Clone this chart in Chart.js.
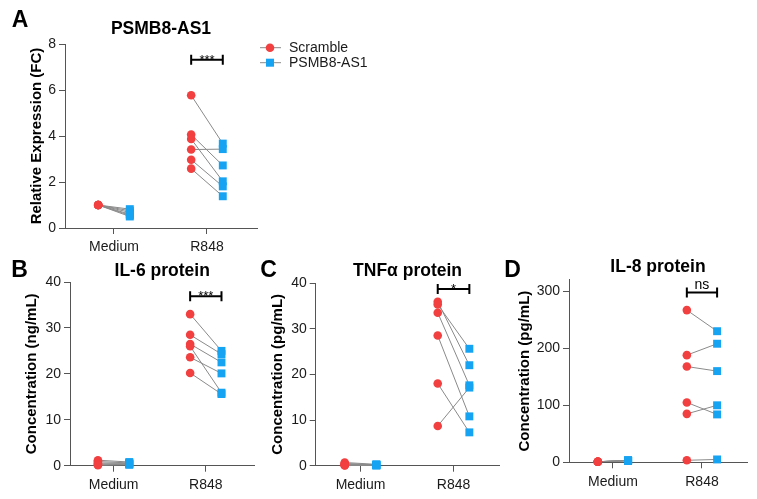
<!DOCTYPE html>
<html>
<head>
<meta charset="utf-8">
<script src="https://cdn.jsdelivr.net/npm/chart.js@4"></script>
<style>
  body { margin: 0; background: #fff; width: 757px; height: 499px; position: relative; overflow: hidden; }
  canvas { position: absolute; }
</style>
</head>
<body>
<canvas id="chartA" width="380" height="255" style="left:0;top:0"></canvas>
<canvas id="chartB" width="260" height="249" style="left:0;top:250px"></canvas>
<canvas id="chartC" width="255" height="249" style="left:250px;top:250px"></canvas>
<canvas id="chartD" width="257" height="249" style="left:500px;top:250px"></canvas>
<script>
const categories = ['Medium', 'R848'];
const seriesNames = ['Scramble', 'PSMB8-AS1'];

// A - PSMB8-AS1 relative expression
const aScrMedium = [1.0, 1.0, 1.0, 1.0, 1.0, 1.0];
const aKdMedium = [0.82, 0.75, 0.68, 0.6, 0.55, 0.5];
const aScrR848 = [5.77, 4.06, 3.87, 3.41, 2.97, 2.58];
const aKdR848 = [3.67, 2.72, 2.03, 3.43, 1.81, 1.38];
const aTicks = [0, 2, 4, 6, 8];

// B - IL-6
const bScrMedium = [1.2, 0.9, 0.6, 0.4, 0.2, 0.1];
const bKdMedium = [0.8, 0.6, 0.5, 0.4, 0.3, 0.2];
const bScrR848 = [33.0, 28.5, 26.5, 26.0, 23.6, 20.2];
const bKdR848 = [25.0, 24.3, 22.5, 15.9, 20.1, 15.6];
const bTicks = [0, 10, 20, 30, 40];

// C - TNFa
const cScrMedium = [0.7, 0.5, 0.3, 0.2, 0.1, 0.05];
const cKdMedium = [0.3, 0.2, 0.2, 0.1, 0.1, 0.05];
const cScrR848 = [35.9, 35.3, 33.5, 28.5, 18.0, 8.7];
const cKdR848 = [22.0, 25.6, 17.6, 10.8, 7.3, 17.1];
const cTicks = [0, 10, 20, 30, 40];

// D - IL-8
const dScrMedium = [1, 1, 1, 1, 1, 1];
const dKdMedium = [3, 3, 2.5, 3, 3.5, 3];
const dScrR848 = [267, 188, 168, 105, 85, 3.5];
const dKdR848 = [230, 208, 160, 84, 100, 5];
const dTicks = [0, 100, 200, 300];

const FONT = '"Liberation Sans", Arial, sans-serif';
const RED = '#f23f3f';
const BLUE = '#16a3f2';
const LINE = '#8a8a8a';
const AXIS = '#555';
const OFF = 0.17;
const X_H = 27;

Chart.defaults.font.family = FONT;
Chart.defaults.color = '#1a1a1a';

// titles, panel letters, significance bracket and legend
const panelText = {
  id: 'panelText',
  afterDraw(chart, args, o) {
    const { ctx, chartArea: a, scales: { x, y } } = chart;
    ctx.save();
    ctx.fillStyle = '#000';
    ctx.textAlign = 'center';
    ctx.textBaseline = 'middle';
    ctx.font = 'bold 23px ' + FONT;
    ctx.fillText(o.letter, o.letterX, o.letterY);
    ctx.font = 'bold 17.5px ' + FONT;
    ctx.fillText(o.title, (a.left + a.right) / 2, o.titleY);

    ctx.save();
    ctx.translate(o.yTitleX, (a.top + a.bottom) / 2);
    ctx.rotate(-Math.PI / 2);
    ctx.font = 'bold 15px ' + FONT;
    ctx.fillText(o.yTitle, 0, 0);
    ctx.restore();

    const x1 = x.getPixelForValue(2 - OFF), x2 = x.getPixelForValue(2 + OFF);
    const by = y.getPixelForValue(o.sigAt);
    ctx.strokeStyle = '#000';
    ctx.lineWidth = 2;
    ctx.beginPath();
    ctx.moveTo(x1, by); ctx.lineTo(x2, by);
    ctx.moveTo(x1, by - 5); ctx.lineTo(x1, by + 5);
    ctx.moveTo(x2, by - 5); ctx.lineTo(x2, by + 5);
    ctx.stroke();
    ctx.textBaseline = 'alphabetic';
    if (o.sig === 'ns') {
      ctx.font = '14px ' + FONT;
      ctx.fillText(o.sig, (x1 + x2) / 2, by - 3);
    } else {
      ctx.font = '13px ' + FONT;
      ctx.fillText(o.sig, (x1 + x2) / 2, by + 4);
    }

    if (o.legend) {
      const rows = [[RED, 'circle', 47.7], [BLUE, 'rect', 62.7]];
      rows.forEach(([c, shape, ly], i) => {
        ctx.strokeStyle = LINE;
        ctx.lineWidth = 1;
        ctx.beginPath();
        ctx.moveTo(260, ly); ctx.lineTo(281, ly);
        ctx.stroke();
        ctx.fillStyle = c;
        if (shape === 'circle') {
          ctx.beginPath(); ctx.arc(270, ly, 4.3, 0, Math.PI * 2); ctx.fill();
        } else {
          ctx.fillRect(266, ly - 4, 8, 8);
        }
        ctx.fillStyle = '#1a1a1a';
        ctx.textAlign = 'left';
        ctx.textBaseline = 'middle';
        ctx.font = '14px ' + FONT;
        ctx.fillText(seriesNames[i], 289, ly);
      });
    }
    ctx.restore();
  }
};

function makePanel(id, p) {
  const scr = [...p.scrMedium.map(v => ({ x: 1 - OFF, y: v })), ...p.scrR848.map(v => ({ x: 2 - OFF, y: v }))];
  const kd = [...p.kdMedium.map(v => ({ x: 1 + OFF, y: v })), ...p.kdR848.map(v => ({ x: 2 + OFF, y: v }))];
  const pairs = scr.map((pt, i) => ({
    data: [pt, kd[i]],
    showLine: true,
    borderColor: LINE,
    borderWidth: 1,
    pointRadius: 0,
    clip: false
  }));

  new Chart(document.getElementById(id), {
    type: 'scatter',
    data: {
      datasets: [
        { data: scr, pointStyle: 'circle', pointRadius: 4.3, backgroundColor: RED, borderWidth: 0, clip: false },
        { data: kd, pointStyle: 'rect', pointRadius: 5.6, backgroundColor: BLUE, borderWidth: 0, clip: false },
        ...pairs
      ]
    },
    options: {
      responsive: false,
      animation: false,
      events: [],
      layout: { padding: p.padding },
      plugins: {
        legend: { display: false },
        tooltip: { enabled: false },
        panelText: p.text
      },
      scales: {
        x: {
          type: 'linear',
          min: p.xMin,
          max: p.xMax,
          afterBuildTicks: s => { s.ticks = categories.map((c, i) => ({ value: i + 1 })); },
          afterFit: s => { s.height = X_H; },
          ticks: { callback: v => categories[Math.round(v) - 1], font: { size: 14 }, padding: 5, maxRotation: 0 },
          grid: { drawOnChartArea: false, tickLength: 6, color: AXIS },
          border: { color: AXIS, width: 1 }
        },
        y: {
          min: 0,
          max: p.yMax,
          afterBuildTicks: s => { s.ticks = p.ticks.map(v => ({ value: v })); },
          afterFit: s => { s.width = 40; },
          ticks: { font: { size: 14 }, padding: 3 },
          grid: { drawOnChartArea: false, tickLength: 6, color: AXIS },
          border: { color: AXIS, width: 1 }
        }
      }
    },
    plugins: [panelText]
  });
}

makePanel('chartA', {
  scrMedium: aScrMedium, kdMedium: aKdMedium, scrR848: aScrR848, kdR848: aKdR848,
  ticks: aTicks, yMax: 8, xMin: 0.473, xMax: 2.538,
  padding: { left: 25, top: 44, right: 123, bottom: 0 },
  text: { letter: 'A', letterX: 20, letterY: 21, title: 'PSMB8-AS1', titleY: 29,
    yTitle: 'Relative Expression (FC)', yTitleX: 36.5, sig: '***', sigAt: 7.32, legend: true }
});

makePanel('chartB', {
  scrMedium: bScrMedium, kdMedium: bKdMedium, scrR848: bScrR848, kdR848: bKdR848,
  ticks: bTicks, yMax: 40, xMin: 0.527, xMax: 2.527,
  padding: { left: 30, top: 32, right: 4, bottom: 6.3 },
  text: { letter: 'B', letterX: 19.5, letterY: 21, title: 'IL-6 protein', titleY: 20.7,
    yTitle: 'Concentration (ng/mL)', yTitleX: 31.5, sig: '***', sigAt: 36.9 }
});

makePanel('chartC', {
  scrMedium: cScrMedium, kdMedium: cKdMedium, scrR848: cScrR848, kdR848: cKdR848,
  ticks: cTicks, yMax: 40, xMin: 0.518, xMax: 2.493,
  padding: { left: 25.7, top: 33, right: 5, bottom: 6.3 },
  text: { letter: 'C', letterX: 18.5, letterY: 21, title: 'TNFα protein', titleY: 20.7,
    yTitle: 'Concentration (pg/mL)', yTitleX: 28, sig: '*', sigAt: 38.7 }
});

makePanel('chartD', {
  scrMedium: dScrMedium, kdMedium: dKdMedium, scrR848: dScrR848, kdR848: dKdR848,
  ticks: dTicks, yMax: 320, xMin: 0.506, xMax: 2.506,
  padding: { left: 29, top: 29.9, right: 10, bottom: 9.7 },
  text: { letter: 'D', letterX: 12.5, letterY: 20.5, title: 'IL-8 protein', titleY: 16.7,
    yTitle: 'Concentration (pg/mL)', yTitleX: 25, sig: 'ns', sigAt: 298 }
});
</script>
</body>
</html>
